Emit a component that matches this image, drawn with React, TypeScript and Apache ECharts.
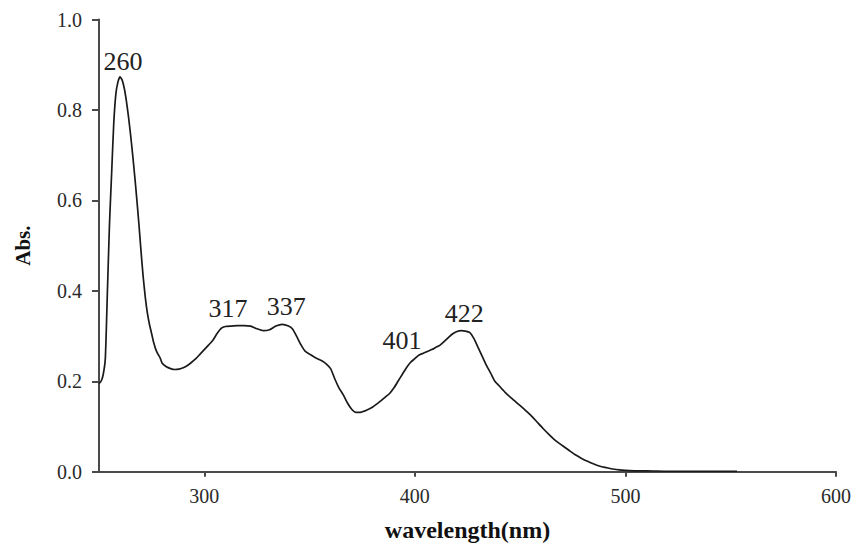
import React, { useEffect, useRef } from "react";
import * as echarts from "echarts";

const wavelengths = [
  250, 251, 252, 253, 254, 255, 256, 257, 258, 259, 260, 261, 262, 263, 264, 265, 266, 267, 268, 269,
  270, 271, 272, 273, 274, 275, 276, 277, 278, 279, 280, 282, 284, 286, 288, 290, 292, 294, 296, 298,
  300, 302, 304, 306, 308, 310, 313, 316, 319, 322, 325, 328, 331, 334, 337, 340, 342, 344, 346, 348,
  350, 352, 354, 356, 358, 360, 362, 364, 366, 368, 370, 372, 374, 376, 378, 380, 382, 384, 386, 388,
  390, 392, 394, 396, 398, 400, 402, 404, 406, 408, 410, 412, 414, 416, 418, 420, 422, 424, 426, 428,
  430, 432, 434, 436, 438, 440, 443, 446, 449, 452, 455, 458, 461, 464, 467, 470, 473, 476, 479, 482,
  485, 488, 491, 494, 497, 500, 505, 510, 520, 530, 540, 553,
];

const absorbance = [
  0.195, 0.2, 0.215, 0.25, 0.4, 0.55, 0.66, 0.77, 0.835, 0.862, 0.873, 0.866, 0.848, 0.82, 0.785, 0.745, 0.7, 0.652, 0.6, 0.545,
  0.485, 0.43, 0.385, 0.35, 0.325, 0.305, 0.285, 0.27, 0.26, 0.252, 0.24, 0.232, 0.228, 0.226, 0.227, 0.23, 0.235, 0.242, 0.25, 0.26,
  0.27, 0.28, 0.29, 0.305, 0.317, 0.321, 0.322, 0.323, 0.323, 0.322, 0.316, 0.312, 0.314, 0.322, 0.326, 0.322, 0.315, 0.298, 0.28, 0.266,
  0.26, 0.254, 0.249, 0.245, 0.238, 0.228, 0.205, 0.185, 0.17, 0.152, 0.138, 0.131, 0.131, 0.134, 0.138, 0.143, 0.15, 0.157, 0.165, 0.173,
  0.185, 0.2, 0.215, 0.23, 0.242, 0.25, 0.258, 0.262, 0.266, 0.27, 0.275, 0.28, 0.288, 0.297, 0.305, 0.31, 0.312, 0.311, 0.308, 0.295,
  0.275, 0.255, 0.235, 0.218, 0.2, 0.19, 0.175, 0.162, 0.15, 0.138, 0.125, 0.11, 0.095, 0.081, 0.068, 0.058, 0.048, 0.038, 0.03, 0.023,
  0.017, 0.012, 0.009, 0.006, 0.004, 0.003, 0.002, 0.002, 0.001, 0.001, 0.001, 0.001,
];

const xTickValues = [300, 400, 500, 600];
const peakWavelengths = [260, 317, 337, 401, 422];
const peakLabelOffsets: number[][] = [
  [3, -15],
  [-12, -17],
  [4, -18],
  [-15, -18],
  [3, -17],
];

const xAxisName = "wavelength(nm)";
const yAxisName = "Abs.";

function absAt(w: number): number {
  let best = 0;
  for (let i = 0; i < wavelengths.length; i++) {
    if (Math.abs(wavelengths[i] - w) < Math.abs(wavelengths[best] - w)) best = i;
  }
  return absorbance[best];
}

export default function App() {
  const ref = useRef<HTMLDivElement>(null);
  useEffect(() => {
    if (!ref.current) return;
    const chart = echarts.init(ref.current, undefined, { renderer: "svg" });
    const axisColor = "#4a4a4a";
    const serif = "Liberation Serif";
    chart.setOption({
      animation: false,
      backgroundColor: "#ffffff",
      grid: { left: 99, right: 22, top: 19.5, bottom: 77.3, containLabel: false },
      xAxis: {
        type: "value",
        min: 250,
        max: 600,
        name: xAxisName,
        nameLocation: "middle",
        nameGap: 46,
        nameTextStyle: { fontFamily: serif, fontWeight: "bold", fontSize: 24, color: "#111" },
        axisLine: { show: true, onZero: false, lineStyle: { color: axisColor, width: 2 } },
        axisTick: { show: true, length: 5, customValues: xTickValues, lineStyle: { color: axisColor, width: 2 } },
        axisLabel: { customValues: xTickValues, margin: 14, fontFamily: serif, fontSize: 20, color: "#2a2a2a" },
        splitLine: { show: false },
      },
      yAxis: {
        type: "value",
        min: 0,
        max: 1,
        interval: 0.2,
        name: yAxisName,
        nameLocation: "middle",
        nameRotate: 90,
        nameGap: 66,
        nameTextStyle: { fontFamily: serif, fontWeight: "bold", fontSize: 21, color: "#111" },
        axisLine: { show: true, lineStyle: { color: axisColor, width: 2 } },
        axisTick: { show: true, length: 7, lineStyle: { color: axisColor, width: 2 } },
        axisLabel: {
          margin: 17,
          fontFamily: serif,
          fontSize: 20,
          color: "#2a2a2a",
          formatter: (v: number) => v.toFixed(1),
        },
        splitLine: { show: false },
      },
      series: [
        {
          type: "line",
          data: wavelengths.map((w, i) => [w, absorbance[i]]),
          showSymbol: false,
          smooth: 0.2,
          lineStyle: { color: "#1a1a1a", width: 1.7 },
          markPoint: {
            symbol: "circle",
            symbolSize: 0,
            silent: true,
            data: peakWavelengths.map((w, i) => ({
              coord: [w, absAt(w)],
              value: w,
              label: {
                show: true,
                position: "inside",
                offset: peakLabelOffsets[i],
                formatter: String(w),
                fontFamily: serif,
                fontSize: 26,
                color: "#222",
              },
            })),
          },
        },
      ],
    });
    return () => chart.dispose();
  }, []);
  return (
    <div
      ref={ref}
      style={{ position: "fixed", left: 0, top: 0, width: 858, height: 549, background: "#fff" }}
    />
  );
}
